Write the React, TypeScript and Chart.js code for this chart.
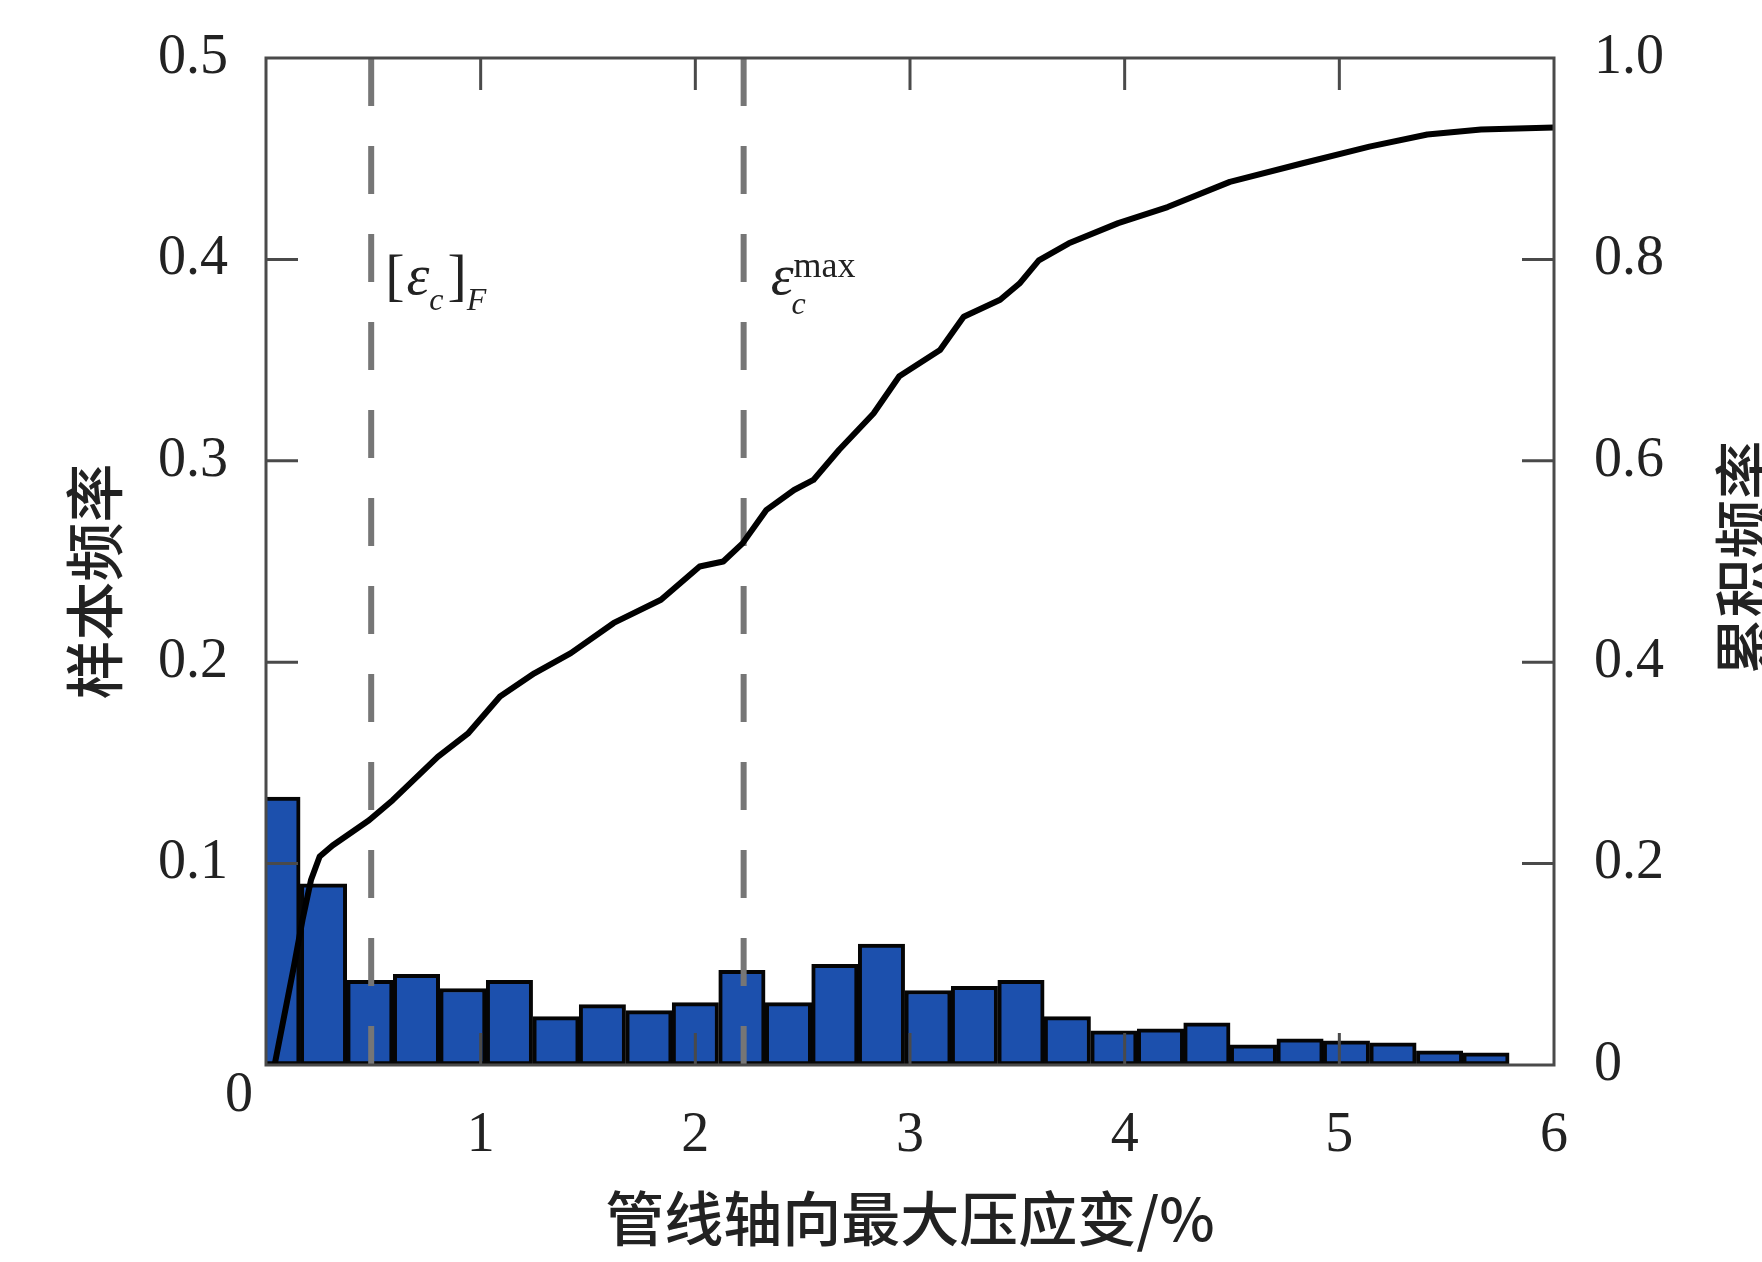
import React, { useEffect, useRef } from 'react';
import { Chart, registerables } from 'chart.js';

Chart.register(...registerables);

// Histogram bins (centres, % strain) and sample frequency
const binCenters = [0.051, 0.268, 0.484, 0.701, 0.917, 1.134, 1.351, 1.567, 1.784, 2.0, 2.217, 2.434, 2.65, 2.867, 3.084, 3.3, 3.517, 3.733, 3.95, 4.167, 4.383, 4.6, 4.817, 5.033, 5.25, 5.467, 5.683, 5.9];
const sampleFreq = [0.133, 0.09, 0.042, 0.045, 0.038, 0.042, 0.024, 0.03, 0.027, 0.031, 0.047, 0.031, 0.05, 0.06, 0.037, 0.039, 0.042, 0.024, 0.017, 0.018, 0.021, 0.01, 0.013, 0.012, 0.011, 0.007, 0.006, 0.0];

// Cumulative frequency curve
const cumX = [0.04, 0.13, 0.17, 0.21, 0.25, 0.31, 0.48, 0.59, 0.8, 0.94, 1.09, 1.25, 1.42, 1.62, 1.84, 2.02, 2.13, 2.22, 2.33, 2.46, 2.55, 2.67, 2.83, 2.95, 3.14, 3.25, 3.42, 3.51, 3.6, 3.74, 3.97, 4.2, 4.49, 4.82, 5.14, 5.41, 5.66, 6.0];
const cumY = [0, 0.098, 0.144, 0.184, 0.207, 0.218, 0.243, 0.263, 0.306, 0.329, 0.366, 0.389, 0.409, 0.439, 0.462, 0.495, 0.5, 0.518, 0.551, 0.571, 0.581, 0.611, 0.647, 0.684, 0.71, 0.743, 0.76, 0.776, 0.799, 0.816, 0.836, 0.852, 0.877, 0.895, 0.912, 0.924, 0.929, 0.931];

// Reference strain lines: [ε_c]_F and ε_c^max
const limitLines = [0.49, 2.225];

const xTickValues = [0, 1, 2, 3, 4, 5, 6];
const yLeftTickValues = [0, 0.1, 0.2, 0.3, 0.4, 0.5];
const yRightTickValues = [0, 0.2, 0.4, 0.6, 0.8, 1.0];

const xTitle = '管线轴向最大压应变/%';
const yLeftTitle = '样本频率';
const yRightTitle = '累积频率';

const SERIF = '"Liberation Serif", "Times New Roman", serif';
const CJK = '"Noto Sans CJK SC", "Noto Sans CJK JP", sans-serif';
const TEXT = '#222222';
const AXIS = '#4a4a4a';

export default function App() {
  const ref = useRef<HTMLCanvasElement>(null);

  useEffect(() => {
    document.body.style.margin = '0';
    const canvas = ref.current;
    if (!canvas) return;

    const overlay = {
      id: 'overlay',
      afterDatasetsDraw(chart: any) {
        const { ctx, chartArea: a, scales } = chart;
        const xs = scales.x;
        const ys = scales.y;
        const y1 = scales.y1;
        ctx.save();

        // frame
        ctx.strokeStyle = AXIS;
        ctx.lineWidth = 3;
        ctx.strokeRect(a.left, a.top, a.right - a.left, a.bottom - a.top);

        // inward ticks
        const tl = 32;
        ctx.beginPath();
        xTickValues.forEach((v) => {
          if (v <= 0 || v >= 6) return;
          const px = xs.getPixelForValue(v);
          ctx.moveTo(px, a.top);
          ctx.lineTo(px, a.top + tl);
          ctx.moveTo(px, a.bottom);
          ctx.lineTo(px, a.bottom - tl);
        });
        yLeftTickValues.forEach((v) => {
          if (v <= 0 || v >= 0.5) return;
          const py = ys.getPixelForValue(v);
          ctx.moveTo(a.left, py);
          ctx.lineTo(a.left + tl, py);
        });
        yRightTickValues.forEach((v) => {
          if (v <= 0 || v >= 1) return;
          const py = y1.getPixelForValue(v);
          ctx.moveTo(a.right, py);
          ctx.lineTo(a.right - tl, py);
        });
        ctx.stroke();

        // shared origin label
        ctx.fillStyle = TEXT;
        ctx.font = `56px ${SERIF}`;
        ctx.textAlign = 'center';
        ctx.textBaseline = 'middle';
        ctx.fillText('0', a.left - 27, a.bottom + 31);

        // annotation [ε_c]_F
        ctx.textAlign = 'left';
        ctx.textBaseline = 'alphabetic';
        const base = ys.getPixelForValue(0.383);
        let px = xs.getPixelForValue(limitLines[0]) + 14;
        ctx.font = `58px ${SERIF}`;
        ctx.fillText('[', px, base);
        px += ctx.measureText('[').width + 2;
        ctx.font = `italic 58px ${SERIF}`;
        ctx.fillText('ε', px, base);
        px += ctx.measureText('ε').width;
        ctx.font = `italic 32px ${SERIF}`;
        ctx.fillText('c', px, base + 16);
        px += ctx.measureText('c').width + 4;
        ctx.font = `58px ${SERIF}`;
        ctx.fillText(']', px, base);
        px += ctx.measureText(']').width;
        ctx.font = `italic 32px ${SERIF}`;
        ctx.fillText('F', px, base + 16);

        // annotation ε_c^max
        let qx = xs.getPixelForValue(limitLines[1]) + 27;
        ctx.font = `italic 58px ${SERIF}`;
        ctx.fillText('ε', qx, base);
        qx += ctx.measureText('ε').width;
        ctx.font = `italic 32px ${SERIF}`;
        ctx.fillText('c', qx - 2, base + 20);
        ctx.font = `36px ${SERIF}`;
        ctx.fillText('max', qx, base - 17);

        // axis titles
        ctx.fillStyle = TEXT;
        ctx.font = `500 59px ${CJK}`;
        ctx.textAlign = 'center';
        ctx.textBaseline = 'middle';
        const cx = (a.left + a.right) / 2;
        const cy = (a.top + a.bottom) / 2;
        ctx.fillText(xTitle, cx, a.bottom + 154);

        ctx.save();
        ctx.translate(a.left - 171, cy + 20);
        ctx.rotate(-Math.PI / 2);
        ctx.fillText(yLeftTitle, 0, 0);
        ctx.restore();

        ctx.save();
        ctx.translate(a.right + 190, cy - 3);
        ctx.rotate(-Math.PI / 2);
        ctx.fillText(yRightTitle, 0, 0);
        ctx.restore();

        ctx.restore();
      },
    };

    const tickFont = { family: SERIF, size: 56 };
    const zeroPad = (s: any) => {
      s.paddingTop = 0;
      s.paddingBottom = 0;
      s.paddingLeft = 0;
      s.paddingRight = 0;
    };

    const chart = new Chart(canvas, {
      type: 'bar',
      data: {
        datasets: [
          {
            type: 'line',
            label: '累积频率',
            data: cumX.map((x, i) => ({ x, y: cumY[i] })),
            yAxisID: 'y1',
            borderColor: '#000000',
            borderWidth: 6,
            pointRadius: 0,
            tension: 0,
            borderJoinStyle: 'round',
            borderCapStyle: 'round',
            order: 1,
          } as any,
          ...limitLines.map((v) => ({
            type: 'line',
            label: 'limit',
            data: [
              { x: v, y: 0.5 },
              { x: v, y: 0 },
            ],
            yAxisID: 'y',
            borderColor: '#767676',
            borderWidth: 6,
            borderDash: [48, 40],
            pointRadius: 0,
            order: 2,
          } as any)),
          {
            type: 'bar',
            label: '样本频率',
            data: binCenters.map((x, i) => ({ x, y: sampleFreq[i] })),
            yAxisID: 'y',
            backgroundColor: '#1c50ad',
            borderColor: '#050505',
            borderWidth: 4,
            borderSkipped: false,
            barPercentage: 1,
            categoryPercentage: 1,
            grouped: false,
            clip: { left: 0, top: 0, right: 0, bottom: 3 },
            order: 3,
          } as any,
        ],
      },
      options: {
        responsive: false,
        devicePixelRatio: 1,
        animation: false,
        layout: { padding: { top: 58, left: 0, right: 0, bottom: 0 } },
        plugins: {
          legend: { display: false },
          tooltip: { enabled: false },
        },
        scales: {
          x: {
            type: 'linear',
            min: 0,
            max: 6,
            offset: false,
            grid: { display: false, drawTicks: false },
            border: { display: false },
            afterBuildTicks: (s: any) => {
              s.ticks = xTickValues.map((value) => ({ value }));
            },
            ticks: {
              font: tickFont,
              color: TEXT,
              padding: 38,
              maxRotation: 0,
              autoSkip: false,
              callback: (v: any) => (Number(v) === 0 ? '' : String(v)),
            },
            afterFit: (s: any) => {
              s.height = 197;
              zeroPad(s);
            },
          },
          y: {
            position: 'left',
            min: 0,
            max: 0.5,
            grid: { display: false, drawTicks: false },
            border: { display: false },
            afterBuildTicks: (s: any) => {
              s.ticks = yLeftTickValues.map((value) => ({ value }));
            },
            ticks: {
              font: tickFont,
              color: TEXT,
              padding: 38,
              autoSkip: false,
              callback: (v: any) => (Number(v) === 0 ? '' : Number(v).toFixed(1)),
            },
            afterFit: (s: any) => {
              s.width = 266;
              zeroPad(s);
            },
          },
          y1: {
            position: 'right',
            min: 0,
            max: 1,
            grid: { display: false, drawTicks: false },
            border: { display: false },
            afterBuildTicks: (s: any) => {
              s.ticks = yRightTickValues.map((value) => ({ value }));
            },
            ticks: {
              font: tickFont,
              color: TEXT,
              padding: 40,
              autoSkip: false,
              callback: (v: any) => (Number(v) === 0 ? '0' : Number(v).toFixed(1)),
            },
            afterFit: (s: any) => {
              s.width = 208;
              zeroPad(s);
            },
          },
        },
      } as any,
      plugins: [overlay],
    });

    if ((document as any).fonts && (document as any).fonts.load) {
      Promise.all([
        (document as any).fonts.load(`56px ${SERIF}`),
        (document as any).fonts.load(`italic 56px ${SERIF}`),
        (document as any).fonts.load(`500 59px ${CJK}`, xTitle + yLeftTitle + yRightTitle),
      ])
        .then(() => chart.update())
        .catch(() => {});
    }

    return () => {
      chart.destroy();
    };
  }, []);

  return (
    <div style={{ width: 1762, height: 1262, background: '#ffffff' }}>
      <canvas ref={ref} width={1762} height={1262} style={{ display: 'block' }} />
    </div>
  );
}
